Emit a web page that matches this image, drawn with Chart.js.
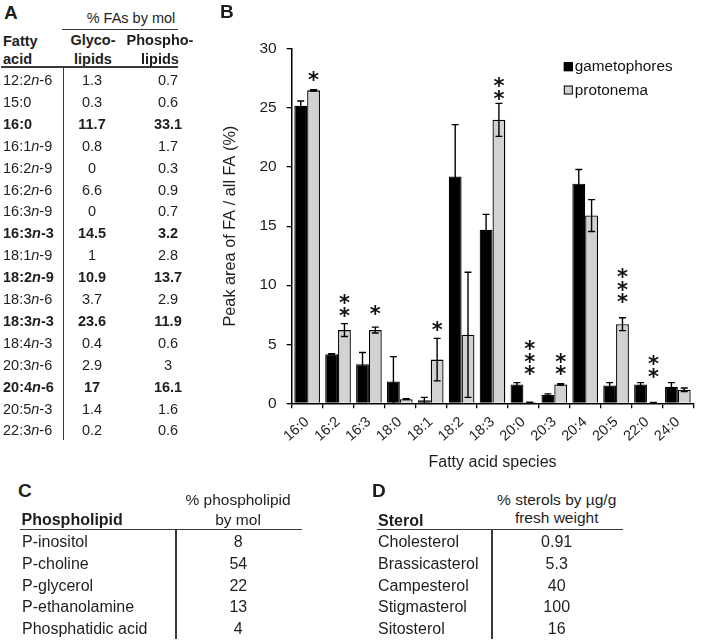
<!DOCTYPE html>
<html>
<head>
<meta charset="utf-8">
<script src="https://cdn.jsdelivr.net/npm/chart.js@4/dist/chart.umd.min.js"></script>
<style>
  html, body { margin:0; padding:0; background:#fff; }
  #page { position:relative; width:705px; height:643px; overflow:hidden; background:#fff;
          font-family:'Liberation Sans', Arial, sans-serif; color:#1e1e1e; }
  .t { position:absolute; white-space:nowrap; }
  .ln { position:absolute; background:#3a3a3a; }
  #wrapB { position:absolute; left:190px; top:0; width:515px; height:480px; }
</style>
</head>
<body>
<div id="page">
  <div id="wrapB"><canvas id="chartB" width="515" height="480"></canvas></div>
</div>
<script>
// ---------- Panel A: fatty acid composition table ----------
const faNames   = ['12:2n-6','15:0','16:0','16:1n-9','16:2n-9','16:2n-6','16:3n-9','16:3n-3','18:1n-9','18:2n-9','18:3n-6','18:3n-3','18:4n-3','20:3n-6','20:4n-6','20:5n-3','22:3n-6'];
const glycoVals = ['1.3','0.3','11.7','0.8','0','6.6','0','14.5','1','10.9','3.7','23.6','0.4','2.9','17','1.4','0.2'];
const phosVals  = ['0.7','0.6','33.1','1.7','0.3','0.9','0.7','3.2','2.8','13.7','2.9','11.9','0.6','3','16.1','1.6','0.6'];
const boldRows  = ['16:0','16:3n-3','18:2n-9','18:3n-3','20:4n-6'];

// ---------- Panel B: bar chart ----------
const faSpecies   = ['16:0','16:2','16:3','18:0','18:1','18:2','18:3','20:0','20:3','20:4','20:5','22:0','24:0'];
const gametophores = [25.2, 4.15, 3.3, 1.85, 0.25, 19.2, 14.7, 1.6, 0.7, 18.6, 1.5, 1.6, 1.4];
const gametoErr    = [0.4, 0.05, 1.0, 2.1, 0.25, 4.4, 1.3, 0.15, 0.1, 1.2, 0.25, 0.15, 0.35];
const protonema    = [26.5, 6.2, 6.2, 0.35, 3.7, 5.8, 24.0, 0.08, 1.6, 15.9, 6.7, 0.05, 1.15];
const protoErr     = [0.05, 0.55, 0.25, 0.03, 1.8, 5.3, 1.4, 0.02, 0.05, 1.35, 0.55, 0.02, 0.15];
const starCount    = [1, 2, 1, 0, 1, 0, 2, 3, 2, 0, 3, 2, 0];
const starLevel    = [27.7, 7.75, 7.9, 0, 6.55, 0, 26.1, 2.8, 2.8, 0, 8.9, 2.6, 0];
const yTicks       = [0, 5, 10, 15, 20, 25, 30];

// ---------- Panel C ----------
const phospholipids = ['P-inositol','P-choline','P-glycerol','P-ethanolamine','Phosphatidic acid'];
const phospholipidPct = [8, 54, 22, 13, 4];

// ---------- Panel D ----------
const sterols = ['Cholesterol','Brassicasterol','Campesterol','Stigmasterol','Sitosterol'];
const sterolVals = ['0.91','5.3','40','100','16'];

// ---------- helpers for HTML tables ----------
const page = document.getElementById('page');
function txt(html, x, y, o = {}) {
  const size = o.size || 14.5;
  const lh = Math.round(size * 1.25);
  const d = document.createElement('div');
  d.className = 't';
  d.innerHTML = html;
  d.style.fontSize = size + 'px';
  d.style.lineHeight = lh + 'px';
  d.style.top = (y - lh / 2) + 'px';
  d.style.left = x + 'px';
  if (o.bold) d.style.fontWeight = 'bold';
  if (o.align === 'center') d.style.transform = 'translateX(-50%)';
  if (o.align === 'right') d.style.transform = 'translateX(-100%)';
  page.appendChild(d);
}
function line(x, y, w, h) {
  const d = document.createElement('div');
  d.className = 'ln';
  d.style.left = x + 'px'; d.style.top = y + 'px';
  d.style.width = w + 'px'; d.style.height = h + 'px';
  page.appendChild(d);
}
const italN = s => s.replace(/n-/, '<i>n</i>-');

// Panel labels
txt('A', 4, 12.5, {size: 19, bold: true});
txt('C', 18, 491, {size: 19, bold: true});
txt('D', 372, 491, {size: 19, bold: true});

// Table A
txt('% FAs by mol', 131, 17.5, {size: 14.5, align: 'center'});
line(62, 28.5, 116, 1.6);
txt('Fatty', 3, 40.5, {size: 14.5, bold: true});
txt('acid', 3, 59, {size: 14.5, bold: true});
txt('Glyco-', 93, 40, {size: 14.5, bold: true, align: 'center'});
txt('lipids', 93, 58.5, {size: 14.5, bold: true, align: 'center'});
txt('Phospho-', 160, 40, {size: 14.5, bold: true, align: 'center'});
txt('lipids', 160, 58.5, {size: 14.5, bold: true, align: 'center'});
line(1, 66, 177, 1.6);
line(62.5, 66, 1.6, 374);
faNames.forEach((n, i) => {
  const y = 80 + i * 21.9;
  const b = boldRows.includes(n);
  txt(italN(n), 3, y, {size: 14.5, bold: b});
  txt(glycoVals[i], 92, y, {size: 14.5, bold: b, align: 'center'});
  txt(phosVals[i], 168, y, {size: 14.5, bold: b, align: 'center'});
});

// Table C
txt('% phospholipid', 238, 499.3, {size: 15.5, align: 'center'});
txt('by mol', 238, 519.3, {size: 15.5, align: 'center'});
txt('Phospholipid', 21.5, 520, {size: 16, bold: true});
line(20, 528.5, 282, 1.8);
line(175, 528.5, 1.8, 110);
phospholipids.forEach((n, i) => {
  const y = 541.7 + i * 21.9;
  txt(n, 22, y, {size: 16});
  txt(String(phospholipidPct[i]), 238.3, y, {size: 16, align: 'center'});
});

// Table D
txt('% sterols by µg/g', 556.7, 499, {size: 15.5, align: 'center'});
txt('fresh weight', 556.7, 517, {size: 15.5, align: 'center'});
txt('Sterol', 378, 520.7, {size: 16, bold: true});
line(376.5, 528.5, 246, 1.8);
line(491, 528.5, 1.8, 110);
sterols.forEach((n, i) => {
  const y = 541.7 + i * 21.9;
  txt(n, 378, y, {size: 16});
  txt(sterolVals[i], 556.7, y, {size: 16, align: 'center'});
});

// ---------- Chart plugins ----------
const errorBars = {
  id: 'errorBars',
  afterDatasetsDraw(chart) {
    const ctx = chart.ctx, ys = chart.scales.y;
    const errs = [gametoErr, protoErr];
    const vals = [gametophores, protonema];
    ctx.save();
    ctx.strokeStyle = '#000';
    ctx.lineWidth = 1.4;
    chart.data.datasets.forEach((ds, di) => {
      const meta = chart.getDatasetMeta(di);
      meta.data.forEach((bar, i) => {
        const v = vals[di][i], e = errs[di][i];
        const yt = ys.getPixelForValue(v + e);
        const yb = ys.getPixelForValue(Math.max(0, v - e));
        const x = bar.x, cw = 3.5;
        ctx.beginPath();
        ctx.moveTo(x, yt); ctx.lineTo(x, yb);
        ctx.moveTo(x - cw, yt); ctx.lineTo(x + cw, yt);
        if (v - e > 0) { ctx.moveTo(x - cw, yb); ctx.lineTo(x + cw, yb); }
        ctx.stroke();
      });
    });
    ctx.restore();
  }
};
const stars = {
  id: 'stars',
  afterDatasetsDraw(chart) {
    const ctx = chart.ctx, ys = chart.scales.y;
    const meta = chart.getDatasetMeta(1);
    ctx.save();
    ctx.fillStyle = '#111';
    ctx.font = 'bold 21px "DejaVu Sans"';
    ctx.textAlign = 'center';
    ctx.textBaseline = 'alphabetic';
    const m = ctx.measureText('*');
    const off = (m.actualBoundingBoxAscent - m.actualBoundingBoxDescent) / 2;
    meta.data.forEach((bar, i) => {
      for (let k = 0; k < starCount[i]; k++) {
        const y = ys.getPixelForValue(starLevel[i]) - k * 12.6;
        ctx.fillText('*', bar.x, y + off);
      }
    });
    ctx.restore();
  }
};
const boxLegend = {
  id: 'boxLegend',
  afterDraw(chart) {
    const ctx = chart.ctx, ca = chart.chartArea;
    const x0 = ca.right - 129.5;
    const rows = [ca.top + 17.7, ca.top + 41];
    ctx.save();
    ctx.font = '15.3px "Liberation Sans", Arial';
    ctx.textBaseline = 'middle';
    ctx.textAlign = 'left';
    chart.data.datasets.forEach((ds, i) => {
      const y = rows[i];
      ctx.fillStyle = ds.backgroundColor;
      ctx.fillRect(x0, y - 4.5, 9, 9);
      ctx.strokeStyle = '#000'; ctx.lineWidth = 1;
      ctx.strokeRect(x0 + 0.5, y - 4, 8, 8);
      ctx.fillStyle = '#111';
      ctx.fillText(ds.label, x0 + 11, y + 0.5);
    });
    ctx.restore();
  }
};

const chartFont = { family: '"Liberation Sans", Arial, sans-serif' };
new Chart(document.getElementById('chartB'), {
  type: 'bar',
  data: {
    labels: faSpecies,
    datasets: [
      { label: 'gametophores', data: gametophores, backgroundColor: '#000000', borderColor: '#000', borderWidth: 1.2 },
      { label: 'protonema', data: protonema, backgroundColor: '#d2d2d2', borderColor: '#000', borderWidth: 1.3 }
    ]
  },
  options: {
    responsive: false,
    devicePixelRatio: 1,
    animation: false,
    categoryPercentage: 0.83,
    barPercentage: 1.0,
    layout: { padding: { left: 28, right: 11.7, top: 49, bottom: 0 } },
    plugins: { legend: { display: false }, tooltip: { enabled: false } },
    scales: {
      x: {
        offset: true,
        grid: { offset: true, drawOnChartArea: false, tickLength: 5, color: '#000', lineWidth: 1.3 },
        border: { color: '#000', width: 1.5 },
        ticks: { autoSkip: false, minRotation: 42, maxRotation: 42, padding: 5, color: '#1e1e1e', font: { ...chartFont, size: 14.5 } },
        title: { display: true, text: 'Fatty acid species', color: '#1e1e1e', font: { ...chartFont, size: 16 }, padding: { top: 0, bottom: 8 } },
        afterFit: s => { s.height = 76.7; }
      },
      y: {
        min: 0, max: 30,
        afterBuildTicks: s => { s.ticks = yTicks.map(v => ({ value: v })); },
        grid: { drawOnChartArea: false, tickLength: 5, color: '#000', lineWidth: 1.3 },
        border: { color: '#000', width: 1.5 },
        ticks: { padding: 10, color: '#1e1e1e', font: { ...chartFont, size: 15.5 } },
        title: { display: true, text: 'Peak area of FA / all FA (%)', color: '#1e1e1e', font: { ...chartFont, size: 16.3 }, padding: { top: 3, bottom: 0 } },
        afterFit: s => { s.width = 73.7; }
      }
    }
  },
  plugins: [errorBars, stars, boxLegend]
});

// Panel B label
txt('B', 220, 11.5, {size: 19, bold: true});
</script>
</body>
</html>
